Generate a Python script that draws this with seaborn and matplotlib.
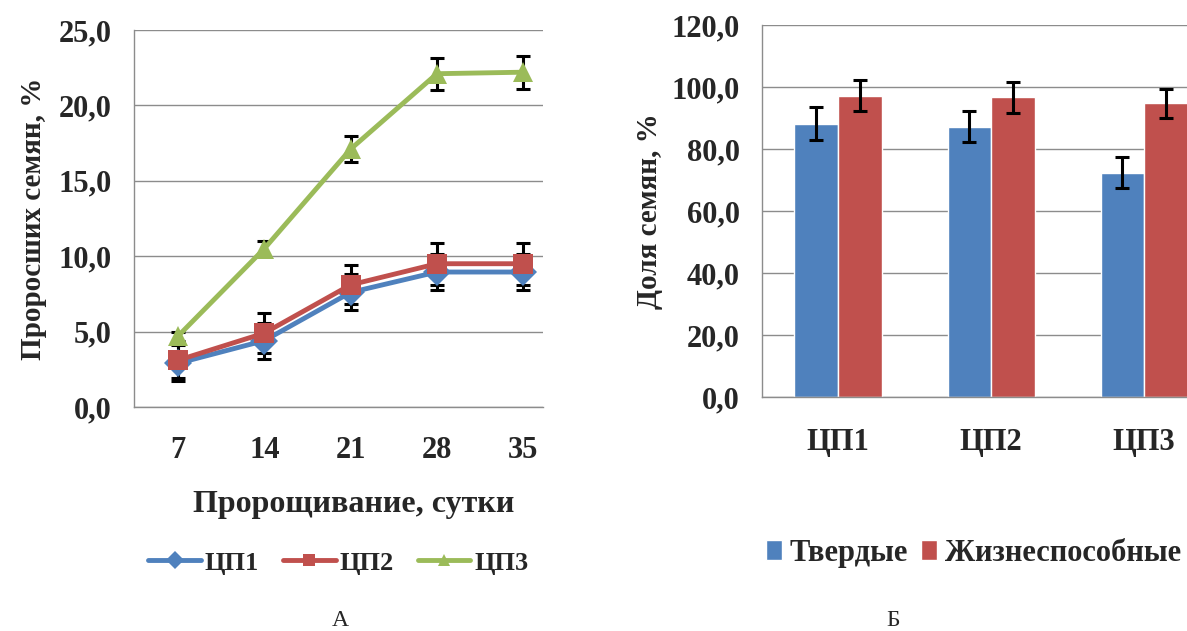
import matplotlib
matplotlib.use("Agg")
import matplotlib.pyplot as plt
from matplotlib.ticker import FuncFormatter, FixedLocator
from matplotlib.lines import Line2D
import numpy as np
import pandas as pd
import seaborn as sns

# --- germination dynamics (left panel) ---
days = ["7", "14", "21", "28", "35"]
cp1 = [2.9, 4.4, 7.6, 8.95, 8.95]
cp1_err = [1.2, 1.2, 1.2, 1.2, 1.2]
cp2 = [3.1, 4.9, 8.1, 9.5, 9.5]
cp2_err = [1.2, 1.3, 1.3, 1.4, 1.4]
cp3 = [4.7, 10.5, 17.1, 22.1, 22.2]
cp3_err = [0.3, 0.5, 0.85, 1.05, 1.1]
series_names = ["ЦП1", "ЦП2", "ЦП3"]

# --- seed fractions (right panel) ---
groups = ["ЦП1", "ЦП2", "ЦП3"]
hard = [88.2, 87.3, 72.5]
hard_err = [5.3, 5.0, 5.0]
viable = [97.3, 96.8, 94.8]
viable_err = [5.0, 5.0, 4.7]
bar_names = ["Твердые", "Жизнеспособные"]

BLUE, RED, GREEN = "#4F81BD", "#C0504D", "#9BBB59"
GRID = "#8C8C8C"

sns.set_theme(style="white")
plt.rcParams["font.family"] = ["Liberation Serif", "DejaVu Serif"]
plt.rcParams["font.weight"] = "bold"

fig = plt.figure(figsize=(11.87, 6.31), dpi=100)
TICK_FS = 22

def comma_fmt(v, _):
    return f"{v:.1f}".replace(".", ",")

# ================= left panel =================
axL = fig.add_axes([0.1129, 0.355, 0.3446, 0.5975])
line_df = pd.DataFrame({
    "pos": list(range(len(days))) * 3,
    "value": cp1 + cp2 + cp3,
    "series": sum([[n] * len(days) for n in series_names], []),
})
errs = [cp1_err, cp2_err, cp3_err]
vals = [cp1, cp2, cp3]
for v, e in zip(vals, errs):
    axL.errorbar(range(len(days)), v, yerr=e, fmt="none", ecolor="black",
                 elinewidth=2.2, capsize=5, capthick=2.2, zorder=2)
line_colors = [BLUE, RED, GREEN]
line_markers = ["D", "s", "^"]
sns.lineplot(data=line_df, x="pos", y="value", hue="series", style="series",
             palette=line_colors, markers=line_markers, dashes=False,
             markersize=14, linewidth=3.5, markeredgewidth=0, ax=axL,
             legend=False, zorder=3)

axL.set_xlim(-0.51, 4.23)
axL.set_ylim(0, 25)
axL.set_yticks(np.arange(0, 25.1, 5))
axL.yaxis.set_major_formatter(FuncFormatter(comma_fmt))
axL.set_xticks(range(len(days)))
axL.set_xticklabels(days)
axL.xaxis.set_minor_locator(FixedLocator([0.5, 1.5, 2.5, 3.5]))
axL.tick_params(axis="x", which="major", length=0, pad=21, labelsize=TICK_FS)
axL.tick_params(axis="x", which="minor", length=9, width=1, color=GRID, direction="out")
axL.tick_params(axis="y", which="major", length=6, width=1, color=GRID,
                direction="out", pad=10, labelsize=TICK_FS)
for lab in axL.get_xticklabels() + axL.get_yticklabels():
    lab.set_fontweight("bold")
axL.grid(axis="y", color=GRID, linewidth=1)
axL.set_axisbelow(True)
for s in ["top", "right"]:
    axL.spines[s].set_visible(False)
for s in ["left", "bottom"]:
    axL.spines[s].set_color(GRID)
    axL.spines[s].set_linewidth(1)
axL.set_xlabel("")
axL.set_ylabel("Проросших семян, %", fontsize=21, fontweight="bold", labelpad=8)
fig.text(0.298, 0.2, "Пророщивание, сутки", ha="center", va="center",
         fontsize=23, fontweight="bold")
leg_handles = [Line2D([], [], color=c, marker=m, markersize=9, linewidth=3.5,
                      markeredgewidth=0) for c, m in zip(line_colors, line_markers)]
fig.legend(leg_handles, series_names, loc="center", bbox_to_anchor=(0.285, 0.108),
           ncol=3, frameon=False, handlelength=2.0, columnspacing=0.9,
           handletextpad=0.15, prop={"weight": "bold", "size": 19})

# ================= right panel =================
axR = fig.add_axes([0.642, 0.3704, 0.358, 0.5895])
bar_df = pd.DataFrame({
    "group": groups * 2,
    "value": hard + viable,
    "kind": [bar_names[0]] * 3 + [bar_names[1]] * 3,
})
sns.barplot(data=bar_df, x="group", y="value", hue="kind", palette=[BLUE, RED],
            errorbar=None, width=0.57, saturation=1, ax=axR, zorder=2)
hR, lR = axR.get_legend_handles_labels()
axR.get_legend().remove()
for cont, v, e in zip(axR.containers, [hard, viable], [hard_err, viable_err]):
    xs = [p.get_x() + p.get_width() / 2 for p in cont.patches]
    axR.errorbar(xs, v, yerr=e, fmt="none", ecolor="black", elinewidth=2.2,
                 capsize=5, capthick=2.2, zorder=4)

axR.set_xlim(-0.497, 2.28)
axR.set_ylim(0, 120)
axR.set_yticks(np.arange(0, 120.1, 20))
axR.yaxis.set_major_formatter(FuncFormatter(comma_fmt))
axR.xaxis.set_minor_locator(FixedLocator([0.5, 1.5]))
axR.tick_params(axis="x", which="major", length=0, pad=22, labelsize=TICK_FS)
axR.tick_params(axis="x", which="minor", length=9, width=1, color=GRID, direction="out")
axR.tick_params(axis="y", which="major", length=6, width=1, color=GRID,
                direction="out", pad=10, labelsize=TICK_FS)
for lab in axR.get_xticklabels() + axR.get_yticklabels():
    lab.set_fontweight("bold")
axR.grid(axis="y", color=GRID, linewidth=1, zorder=0)
axR.set_axisbelow(True)
for s in ["top", "right"]:
    axR.spines[s].set_visible(False)
for s in ["left", "bottom"]:
    axR.spines[s].set_color(GRID)
    axR.spines[s].set_linewidth(1)
axR.set_xlabel("")
axR.set_ylabel("Доля семян, %", fontsize=21, fontweight="bold", labelpad=6)
fig.legend(hR, lR, loc="center", bbox_to_anchor=(0.82, 0.123), ncol=2,
           frameon=False, handlelength=0.55, handleheight=0.6, columnspacing=0.4,
           handletextpad=0.25, prop={"weight": "bold", "size": 22})

# panel letters
fig.text(0.287, 0.0, "А", ha="center", va="bottom", fontsize=17, fontweight="normal")
fig.text(0.752, 0.0, "Б", ha="center", va="bottom", fontsize=17, fontweight="normal")

fig.savefig("out.png", dpi=100)
